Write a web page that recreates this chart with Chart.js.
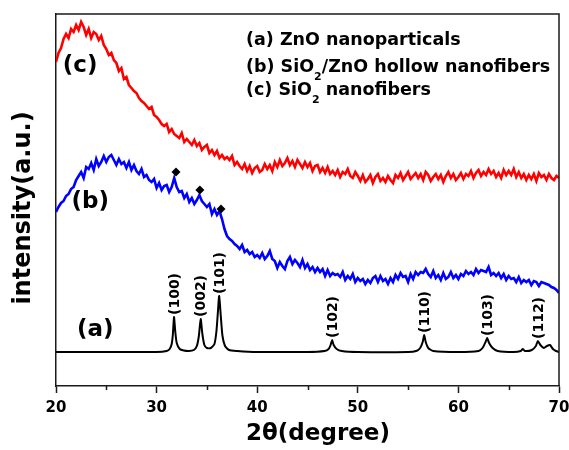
<!DOCTYPE html>
<html>
<head>
<meta charset="utf-8">
<script src="https://cdn.jsdelivr.net/npm/chart.js@4.4.1/dist/chart.umd.min.js"></script>
<style>
  html, body { margin: 0; padding: 0; background: #fff; }
  #wrap { width: 569px; height: 450px; }
</style>
</head>
<body>
<div id="wrap"><canvas id="xrd"></canvas></div>
<script>
// 2theta scan grid, 0.25 deg step
const twoTheta = [];
for (let i = 0; i <= 200; i++) twoTheta.push(20 + i * 0.25);

// (c) SiO2 nanofibers
const sio2Fibers = [
  324, 333, 338, 347, 352, 348, 357, 354, 361, 356, 364, 359,
  351, 357, 348, 354, 352, 346, 350, 341, 337, 331, 333, 326,
  323, 315, 318, 307, 309, 301, 298, 295, 293, 288, 285, 283,
  280, 277, 279, 271, 269, 266, 262, 260, 262, 254, 257, 252,
  250, 248, 253, 244, 247, 244, 241, 246, 240, 243, 236, 239,
  241, 233, 236, 231, 235, 228, 231, 227, 229, 226, 230, 221,
  224, 220, 217, 222, 215, 220, 213, 218,
  220, 214, 216, 222, 217, 221, 215, 224, 219, 226, 220, 223,
  228, 221, 225, 219, 226, 222, 218, 224, 219, 223, 215, 220,
  221, 214, 218, 213, 219, 212, 215, 211, 216, 209, 214, 212,
  217, 210, 208, 214, 210, 205, 211, 204, 207, 211, 203, 209,
  212, 205, 208, 204, 210, 206, 203, 211, 208, 213, 206, 210,
  214, 207, 210, 213, 208, 212, 206, 214, 211, 205, 209, 212,
  207, 211, 204, 210, 214, 208, 212, 206, 209, 213, 207, 212,
  210, 215, 208, 213, 216, 210, 214, 211, 217, 212, 215, 209,
  213, 208, 216, 211, 215, 211, 217, 209, 214, 208, 212, 206,
  211, 207, 212, 205, 213, 209, 211, 206, 212, 208, 206, 210,
  208
];

// (b) SiO2/ZnO hollow nanofibers
const hollowFibers = [
  174, 179, 183, 185, 190, 192, 197, 199, 206, 210, 214, 208,
  219, 217, 223, 216, 227, 220, 224, 230, 224, 229, 231, 226,
  221, 227, 222, 224, 218, 224, 216, 221, 215, 212, 217, 209,
  211, 206, 204, 207, 198, 203, 196, 200, 201, 194, 199, 208,
  199, 194, 195, 188, 192, 184, 188, 182, 186, 191, 185, 182,
  179, 182, 172, 177, 171, 175, 167, 157, 150, 147, 145, 142,
  140, 137, 141, 134, 136, 132, 134, 129, 131, 128, 133, 127,
  130, 135, 127, 125, 118, 124, 120, 117, 125, 129, 122, 126,
  123, 119, 126, 118, 122, 116, 119, 114, 118, 114, 117, 110,
  116, 110, 113, 111, 112, 109, 114, 106, 110, 107, 112, 104,
  108, 105, 107, 102, 106, 103, 108, 110, 104, 110, 105, 107,
  102, 108, 104, 111, 107, 113, 109, 110, 104, 112, 107, 114,
  111, 114, 113, 117, 112, 109, 115, 108, 111, 106, 113, 107,
  109, 114, 108, 111, 107, 112, 110, 115, 112, 114, 111, 117,
  113, 116, 115, 114, 119, 111, 113, 110, 113, 108, 112, 106,
  110, 107, 108, 104, 109, 103, 106, 104, 106, 101, 105, 104,
  100, 104, 103, 102, 101, 99, 98, 96, 93
];

// (a) ZnO nanoparticles
const znoTheta = [
  20, 25, 30, 31.0, 31.3, 31.5, 31.62, 31.73, 31.85, 32.0, 32.3, 32.7,
  33.2, 33.7, 34.0, 34.2, 34.38, 34.55, 34.75, 35.0, 35.4, 35.75, 35.95,
  36.1, 36.22, 36.38, 36.55, 36.8, 37.2, 38, 40, 45, 46.7, 47.1, 47.3,
  47.45, 47.6, 47.9, 48.4, 50, 55, 55.8, 56.2, 56.45, 56.6, 56.75, 57.0,
  57.5, 60, 62.0, 62.4, 62.7, 62.86, 63.05, 63.4, 63.9, 65.5, 66.2, 66.4,
  66.6, 67.3, 67.7, 67.9, 68.15, 68.5, 68.8, 69.1, 69.4, 69.7, 70
];
const znoIntensity = [
  34, 34, 34, 35, 37, 42, 52, 69, 55, 43, 37, 35.5,
  35, 36, 40, 50, 67, 52, 41, 38, 38, 42, 55,
  75, 90, 70, 50, 40, 36, 35, 34, 34, 35, 37, 41,
  46, 41, 37, 35, 34, 34, 35, 38, 44, 51, 44, 38,
  35, 34, 35, 38, 44, 48, 43, 38, 35, 34, 35, 37,
  35, 36, 40, 45, 41, 38, 40, 41, 37, 35, 34
];

// ZnO reflections
const peakPos = [31.73, 34.38, 36.22, 47.45, 56.6, 62.86, 67.9];
const peakHeight = [69, 67, 90, 46, 51, 48, 45];
const peakLabels = ['(100)', '(002)', '(101)', '(102)', '(110)', '(103)', '(112)'];

// ZnO marks on curve (b)
const diamondTheta = [31.93, 34.3, 36.4];
const diamondIntensity = [214, 196, 177];

// curve tags
const tagText = ['(a)', '(b)', '(c)'];
const tagTheta = [23.9, 23.4, 22.4];
const tagIntensity = [56, 184, 320];

const xTicks = [20, 30, 40, 50, 60, 70];
const xMinor = [25, 35, 45, 55, 65];

const FONT = '"DejaVu Sans", sans-serif';
const INK = '#1a1a1a';

const pts = (xs, ys) => xs.map((v, i) => ({ x: v, y: ys[i] }));

const decor = {
  id: 'decor',
  afterDatasetsDraw(chart) {
    const { ctx, chartArea: a, scales: { x, y } } = chart;
    ctx.save();
    ctx.strokeStyle = INK;
    ctx.lineWidth = 1.5;
    ctx.beginPath();
    ctx.moveTo(a.left, a.top);
    ctx.lineTo(a.right, a.top);
    ctx.lineTo(a.right, a.bottom);
    ctx.stroke();
    // minor ticks
    xMinor.forEach(v => {
      const px = Math.round(x.getPixelForValue(v)) + 0.5;
      ctx.beginPath();
      ctx.moveTo(px, a.bottom);
      ctx.lineTo(px, a.bottom + 4);
      ctx.stroke();
    });

    ctx.fillStyle = '#000';
    // peak labels
    ctx.font = 'bold 14px ' + FONT;
    ctx.textAlign = 'left';
    ctx.textBaseline = 'middle';
    peakLabels.forEach((t, i) => {
      const px = x.getPixelForValue(peakPos[i]);
      const py = y.getPixelForValue(peakHeight[i]) - 2;
      ctx.save();
      ctx.translate(px + 1, py);
      ctx.rotate(-Math.PI / 2);
      ctx.fillText(t, 0, 0);
      ctx.restore();
    });

    // curve tags
    ctx.font = 'bold 23px ' + FONT;
    ctx.textAlign = 'center';
    tagText.forEach((t, i) => {
      ctx.fillText(t, x.getPixelForValue(tagTheta[i]), y.getPixelForValue(tagIntensity[i]));
    });

    // legend block
    const legend = [
      [['(a) ZnO nanoparticals']],
      [['(b) SiO'], ['2', 1], ['/ZnO hollow nanofibers']],
      [['(c) SiO'], ['2', 1], [' nanofibers']]
    ];
    const rowY = [40, 67, 90];
    ctx.textAlign = 'left';
    legend.forEach((runs, r) => {
      let lx = 246;
      runs.forEach(([t, sub]) => {
        ctx.font = (sub ? 'bold 11px ' : 'bold 17.5px ') + FONT;
        ctx.fillText(t, lx, rowY[r] + (sub ? 10 : 0));
        lx += ctx.measureText(t).width;
      });
    });

    // axis titles
    ctx.font = 'bold 23px ' + FONT;
    ctx.textAlign = 'center';
    ctx.fillText('2\u03b8(degree)', 318, 434);
    ctx.save();
    ctx.translate(24, 208);
    ctx.rotate(-Math.PI / 2);
    ctx.font = 'bold 24px ' + FONT;
    ctx.fillText('intensity(a.u.)', 0, 0);
    ctx.restore();
    ctx.restore();
  }
};

new Chart(document.getElementById('xrd'), {
  type: 'line',
  data: {
    datasets: [
      {
        label: 'marks',
        type: 'scatter',
        data: pts(diamondTheta, diamondIntensity),
        pointStyle: 'rectRot',
        pointRadius: 4.5,
        backgroundColor: '#000',
        borderWidth: 0
      },
      {
        label: '(a) ZnO nanoparticals',
        data: pts(znoTheta, znoIntensity),
        borderColor: '#000',
        borderWidth: 2,
        pointRadius: 0,
        tension: 0.2
      },
      {
        label: '(b) SiO2/ZnO hollow nanofibers',
        data: pts(twoTheta, hollowFibers),
        borderColor: '#0000ff',
        borderWidth: 2.6,
        pointRadius: 0,
        tension: 0
      },
      {
        label: '(c) SiO2 nanofibers',
        data: pts(twoTheta, sio2Fibers),
        borderColor: '#ff0000',
        borderWidth: 2.6,
        pointRadius: 0,
        tension: 0
      }
    ]
  },
  options: {
    responsive: true,
    maintainAspectRatio: false,
    animation: false,
    layout: { padding: { top: 14, right: 0, left: 0, bottom: 0 } },
    plugins: { legend: { display: false }, tooltip: { enabled: false } },
    scales: {
      x: {
        type: 'linear',
        min: 20,
        max: 70,
        afterFit: s => { s.height = 64; s.paddingLeft = 0; s.paddingRight = 10; },
        afterBuildTicks: s => { s.ticks = xTicks.map(v => ({ value: v })); },
        grid: { display: true, drawOnChartArea: false, drawTicks: true, tickLength: 7, tickColor: INK, tickWidth: 1.5 },
        border: { display: true, color: INK, width: 1.5 },
        ticks: { padding: 6, color: '#000', font: { family: FONT, size: 15, weight: 'bold' } }
      },
      y: {
        min: 0,
        max: 372,
        afterFit: s => { s.width = 56; },
        grid: { display: false },
        border: { display: true, color: INK, width: 1.5 },
        ticks: { display: false }
      }
    }
  },
  plugins: [decor]
});
</script>
</body>
</html>
